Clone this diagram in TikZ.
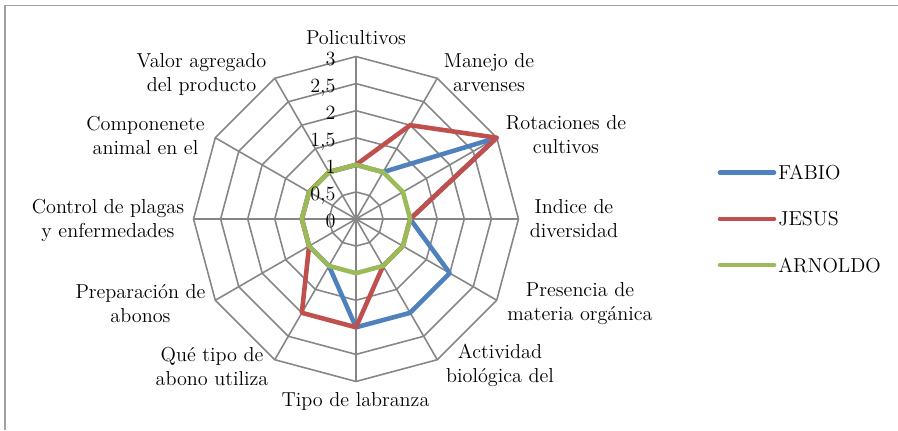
\documentclass[tikz,border=0pt]{standalone}
\usepackage{tikz}
\definecolor{fabioazul}{RGB}{79,129,189}
\definecolor{jesusrojo}{RGB}{192,80,77}
\definecolor{arnoldoverde}{RGB}{155,187,89}
\definecolor{grisrejilla}{RGB}{134,134,134}
\definecolor{grismarco}{RGB}{160,160,160}
\tikzset{
  malla/.style={draw=grisrejilla,line width=0.9pt},
  serie/.style={line width=2.6pt,line join=round},
  etiqueta/.style={align=center,inner sep=0pt},
  nivel/.style={anchor=east,inner sep=0pt,text height=7.5pt,text depth=0pt},
}
\begin{document}
\begin{tikzpicture}[x=0.02cm,y=0.02cm,font=\fontsize{11.5pt}{13.7pt}\selectfont]
   \useasboundingbox (0,0) rectangle (898,430);
   \draw[grismarco,line width=0.8pt] (5,0) -- (5,424.5) -- (898,424.5);

   \begin{scope}[shift={(356,211)},x=1.0834cm,y=1.0834cm]
    \foreach \r in {0.5,1,...,3}
      \draw[malla] (90:\r) -- (60:\r) -- (30:\r) -- (0:\r) -- (-30:\r) -- (-60:\r)
        -- (-90:\r) -- (-120:\r) -- (-150:\r) -- (180:\r) -- (150:\r) -- (120:\r) -- cycle;
    \foreach \a in {0,30,...,330}
      \draw[malla] (0,0) -- (\a:3);
    \draw[serie,fabioazul] (90:1) -- (60:1) -- (30:3) -- (0:1) -- (-30:2) -- (-60:2)
      -- (-90:2) -- (-120:1) -- (-150:1) -- (180:1) -- (150:1) -- (120:1) -- cycle;
    \draw[serie,jesusrojo] (90:1) -- (60:2) -- (30:3) -- (0:1) -- (-30:1) -- (-60:1)
      -- (-90:2) -- (-120:2) -- (-150:1) -- (180:1) -- (150:1) -- (120:1) -- cycle;
    \draw[serie,arnoldoverde] (90:1) -- (60:1) -- (30:1) -- (0:1) -- (-30:1) -- (-60:1)
      -- (-90:1) -- (-120:1) -- (-150:1) -- (180:1) -- (150:1) -- (120:1) -- cycle;
    \foreach \v/\t [count=\i] in {0/0,0.5/{0,5},1/1,1.5/{1,5},2/2,2.5/{2,5},3/3}
      \node[nivel] (nivel\i) at (-0.37,\v-0.04) {\t};
   \end{scope}

   \node[etiqueta] (poli) at (356,392) {Policultivos};
   \node[etiqueta] (manejo) at (489,357) {Manejo de\\arvenses};
   \node[etiqueta] (rotacion) at (566,295) {Rotaciones de\\cultivos};
   \node[etiqueta] (indice) at (574,211) {Indice de\\diversidad};
   \node[etiqueta] (materia) at (580,126) {Presencia de\\materia org\'anica};
   \node[etiqueta] (actividad) at (500,65) {Actividad\\biol\'ogica del};
   \node[etiqueta] (labranza) at (355.5,28.3) {Tipo de labranza};
   \node[etiqueta] (abono) at (212,63.5) {Qu\'e tipo de\\abono utiliza};
   \node[etiqueta] (prepara) at (140.5,126) {Preparaci\'on de\\abonos};
   \node[etiqueta] (plagas) at (108,209.5) {Control de plagas\\y enfermedades};
   \node[etiqueta] (animal) at (145.5,294.5) {Componenete\\animal en el};
   \node[etiqueta] (valor) at (201.5,356) {Valor agregado\\del producto};

   \coordinate (fabioA) at (720,257.3);
   \coordinate (fabioB) at (774,257.3);
   \coordinate (jesusA) at (720,211);
   \coordinate (jesusB) at (774,211);
   \coordinate (arnoldoA) at (720,165);
   \coordinate (arnoldoB) at (774,165);
   \draw[serie,fabioazul,line cap=round] (fabioA) -- (fabioB);
   \draw[serie,jesusrojo,line cap=round] (jesusA) -- (jesusB);
   \draw[serie,arnoldoverde,line cap=round] (arnoldoA) -- (arnoldoB);
   \node[anchor=west,inner sep=0pt] (fabio) at (778,257.3) {FABIO};
   \node[anchor=west,inner sep=0pt] (jesus) at (778,211) {JESUS};
   \node[anchor=west,inner sep=0pt] (arnoldo) at (778,165) {ARNOLDO};
 \end{tikzpicture}
\end{document}
